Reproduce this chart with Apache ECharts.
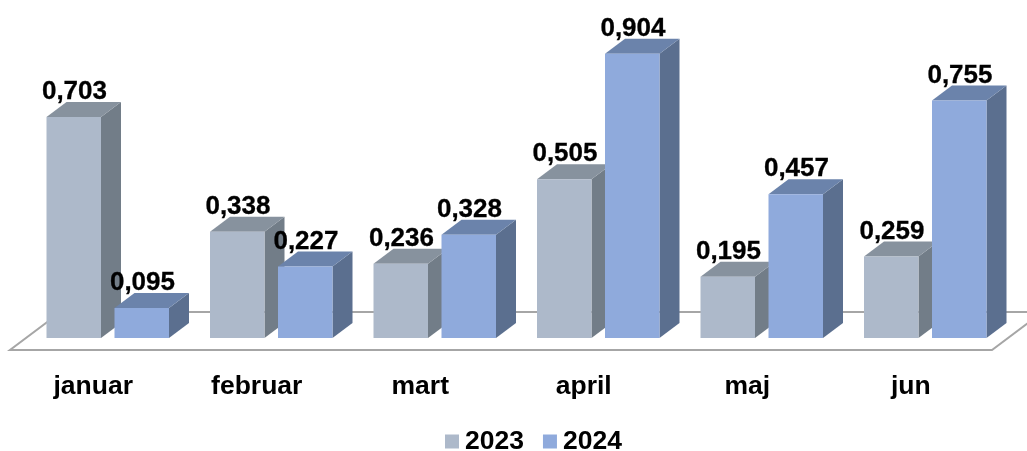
<!DOCTYPE html>
<html>
<head>
<meta charset="utf-8">
<style>html,body{margin:0;padding:0;background:#fff}#c{width:1027px;height:451px}</style>
<script src="https://cdn.jsdelivr.net/npm/echarts@6/dist/echarts.min.js"></script>
</head>
<body>
<div id="c"></div>
<script>
const categories = ['januar', 'februar', 'mart', 'april', 'maj', 'jun'];
const values2023 = [0.703, 0.338, 0.236, 0.505, 0.195, 0.259];
const values2024 = [0.095, 0.227, 0.328, 0.904, 0.457, 0.755];
const seriesNames = ['2023', '2024'];

const FONT = '"Liberation Sans", Arial, sans-serif';
const BAR_W = 54.5, DEPTH_X = 20, DEPTH_Y = 15, SHIFT = 14.5;

function bar3d(offset, front, side, top) {
  return function (params, api) {
    const p = api.coord([api.value(0), api.value(1)]);
    const z = api.coord([api.value(0), 0]);
    const x0 = p[0] + SHIFT + offset - BAR_W / 2, x1 = x0 + BAR_W;
    const yT = p[1], yB = z[1];
    const val = api.value(1).toFixed(3).replace('.', ',');
    return {
      type: 'group',
      children: [
        { type: 'polygon', shape: { points: [[x1, yT], [x1 + DEPTH_X, yT - DEPTH_Y], [x1 + DEPTH_X, yB - DEPTH_Y], [x1, yB]] }, style: { fill: side } },
        { type: 'polygon', shape: { points: [[x0, yT], [x0 + DEPTH_X, yT - DEPTH_Y], [x1 + DEPTH_X, yT - DEPTH_Y], [x1, yT]] }, style: { fill: top } },
        { type: 'rect', shape: { x: x0, y: yT, width: BAR_W, height: yB - yT }, style: { fill: front } },
        { type: 'text', z2: 100, style: { x: (x0 + x1) / 2 + 0.7, y: yT - 25, text: val, fill: '#000', font: 'bold 26px ' + FONT, textAlign: 'center', textVerticalAlign: 'middle', stroke: '#000', lineWidth: 0.3 } }
      ]
    };
  };
}

function floor(params, api) {
  const z = api.coord([0, 0]);
  const yF = z[1] + 12, yK = z[1] - 26, run = (yF - yK) * 4 / 3;
  const xL = 10, xR = 992;
  return {
    type: 'polyline',
    shape: { points: [[xL + 1100, yK], [xL + run, yK], [xL, yF], [xR, yF], [xR + run, yK]] },
    style: { stroke: '#a6a6a6', lineWidth: 2, fill: null }
  };
}

const chart = echarts.init(document.getElementById('c'), null, { renderer: 'canvas' });
chart.setOption({
  animation: false,
  backgroundColor: '#fff',
  grid: { left: 11.5, width: 981, top: 23.5, height: 314.5 },
  xAxis: {
    type: 'category', data: categories,
    axisLine: { show: false }, axisTick: { show: false },
    axisLabel: { color: '#000', fontFamily: FONT, fontWeight: 'bold', fontSize: 26.5, margin: 35 }
  },
  yAxis: { type: 'value', min: 0, max: 1, show: false },
  legend: {
    data: seriesNames, left: 445, top: 428, padding: 0, icon: 'rect',
    itemWidth: 14, itemHeight: 14, itemGap: 19,
    textStyle: { color: '#000', fontFamily: FONT, fontWeight: 'bold', fontSize: 26.5, padding: [0, 0, 0, 1] }
  },
  series: [
    { type: 'custom', name: 'floor', silent: true, clip: false, data: [[0, 0]], renderItem: floor, z: 1 },
    { type: 'custom', name: seriesNames[0], clip: false, itemStyle: { color: '#adb9ca' }, encode: { x: 0, y: 1 },
      data: values2023.map((v, i) => [i, v]), renderItem: bar3d(-34, '#adb9ca', '#727d88', '#87929e'), z: 2 },
    { type: 'custom', name: seriesNames[1], clip: false, itemStyle: { color: '#8faadc' }, encode: { x: 0, y: 1 },
      data: values2024.map((v, i) => [i, v]), renderItem: bar3d(34, '#8faadc', '#5b6f8f', '#6b83ab'), z: 2 }
  ]
});
</script>
</body>
</html>
